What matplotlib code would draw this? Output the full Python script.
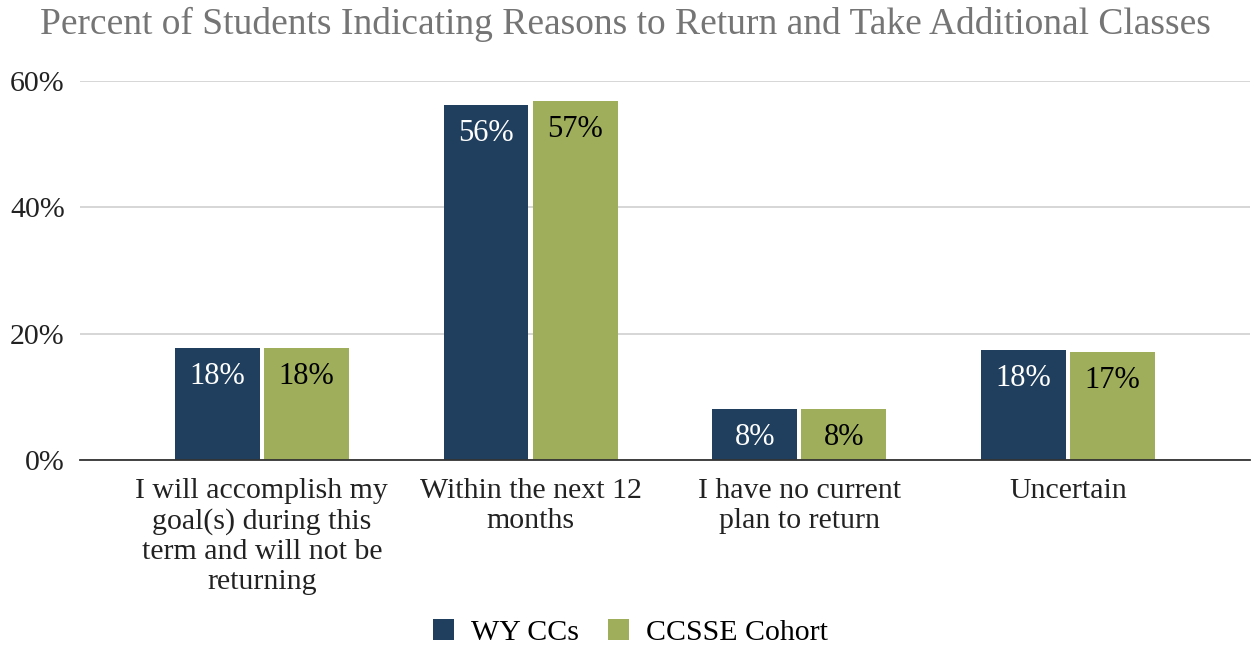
import numpy as np
import matplotlib.pyplot as plt

categories = ['I will accomplish my\ngoal(s) during this\nterm and will not be\nreturning',
              'Within the next 12\nmonths',
              'I have no current\nplan to return',
              'Uncertain']
wy_ccs = [17.7, 56.2, 8.1, 17.4]
ccsse = [17.7, 56.8, 8.1, 17.1]
wy_labels = ['18%', '56%', '8%', '18%']
ccsse_labels = ['18%', '57%', '8%', '17%']
series_names = ['WY CCs', 'CCSSE Cohort']

navy = '#203F5E'
olive = '#9EAE5A'

plt.rcParams['font.family'] = ['Liberation Serif', 'DejaVu Serif']

fig = plt.figure(figsize=(12.51, 6.47), dpi=100)
ax = fig.add_axes([0.064, 0.289, 0.935, 0.586])

x = np.arange(len(categories))
w = 0.316
gap = 0.008
b1 = ax.bar(x - w / 2 - gap, wy_ccs, w, color=navy, label=series_names[0], zorder=3)
b2 = ax.bar(x + w / 2 + gap, ccsse, w, color=olive, label=series_names[1], zorder=3)

# value labels inside the top of each bar
for rect, lab in zip(b1, wy_labels):
    ax.annotate(lab, (rect.get_x() + rect.get_width() / 2, rect.get_height()),
                xytext=(0, -10), textcoords='offset points', ha='center', va='top',
                color='white', fontsize=22, zorder=4)
for rect, lab in zip(b2, ccsse_labels):
    ax.annotate(lab, (rect.get_x() + rect.get_width() / 2, rect.get_height()),
                xytext=(0, -10), textcoords='offset points', ha='center', va='top',
                color='black', fontsize=22, zorder=4)

ax.set_xlim(-0.677, 3.677)
ax.set_ylim(0, 60)
ax.set_yticks([0, 20, 40, 60])
ax.set_yticklabels(['0%', '20%', '40%', '60%'], fontsize=21.5, color='#222222')
ax.set_xticks(x)
ax.set_xticklabels(categories, fontsize=21.5, color='#222222', linespacing=1.19)
ax.tick_params(axis='x', length=0, pad=13)
ax.tick_params(axis='y', length=0, pad=11)

ax.grid(axis='y', color='#d0d0d0', linewidth=1.2, zorder=0)
for s in ['top', 'right', 'left']:
    ax.spines[s].set_visible(False)
ax.spines['bottom'].set_color('#333333')
ax.spines['bottom'].set_linewidth(1.3)
ax.spines['bottom'].set_zorder(5)

fig.suptitle('Percent of Students Indicating Reasons to Return and Take Additional Classes',
             fontsize=27, color='#757575', x=0.5, y=0.99, va='top')

fig.legend(loc='center', bbox_to_anchor=(0.504, 0.022), ncol=2, frameon=False,
           fontsize=21.5, handlelength=0.7, handleheight=0.7, columnspacing=1.0,
           handletextpad=0.57)

plt.savefig('out.png', dpi=100)
